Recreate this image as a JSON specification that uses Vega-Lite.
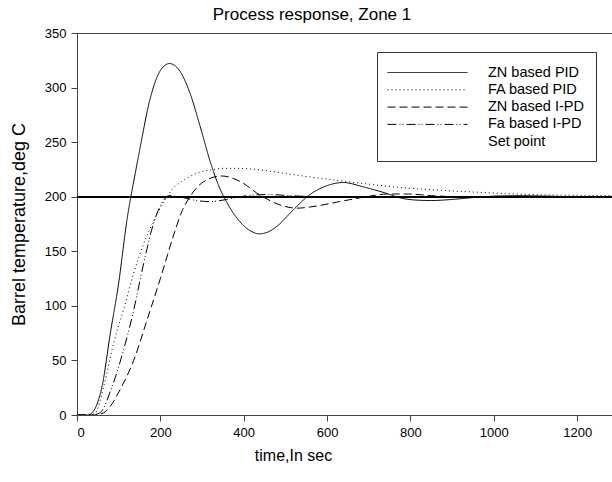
{
  "$schema": "https://vega.github.io/schema/vega-lite/v6.json",
  "autosize": {"type": "none"},
  "padding": {"left": 77, "top": 33, "right": 0, "bottom": 67},
  "width": 536,
  "height": 382,
  "title": {"text": "Process response, Zone 1", "font": "Liberation Sans", "fontSize": 17, "fontWeight": "normal", "color": "#000", "anchor": "middle", "dx": -33, "offset": 3},
  "config": {
    "view": {"stroke": "#444", "strokeWidth": 1},
    "font": "Liberation Sans",
    "axis": {"labelFont": "Liberation Sans", "titleFont": "Liberation Sans", "labelFontSize": 13, "titleFontSize": 16, "titleFontWeight": "normal", "labelColor": "#000", "titleColor": "#000", "domainColor": "#444", "tickColor": "#444", "tickSize": 6, "grid": false}
  },
  "data": {"values": [
    {"t": 0, "y": 0, "s": "ZN based PID"}, {"t": 25, "y": 0, "s": "ZN based PID"}, {"t": 36, "y": 2, "s": "ZN based PID"}, {"t": 50, "y": 12, "s": "ZN based PID"}, {"t": 60, "y": 26, "s": "ZN based PID"}, {"t": 80, "y": 75, "s": "ZN based PID"}, {"t": 100, "y": 121, "s": "ZN based PID"}, {"t": 120, "y": 179, "s": "ZN based PID"}, {"t": 140, "y": 222, "s": "ZN based PID"}, {"t": 151, "y": 244, "s": "ZN based PID"}, {"t": 175, "y": 289, "s": "ZN based PID"}, {"t": 199, "y": 315, "s": "ZN based PID"}, {"t": 222, "y": 322, "s": "ZN based PID"}, {"t": 247, "y": 315, "s": "ZN based PID"}, {"t": 271, "y": 295, "s": "ZN based PID"}, {"t": 295, "y": 265, "s": "ZN based PID"}, {"t": 319, "y": 233, "s": "ZN based PID"}, {"t": 340, "y": 210, "s": "ZN based PID"}, {"t": 355, "y": 198, "s": "ZN based PID"}, {"t": 391, "y": 177, "s": "ZN based PID"}, {"t": 415, "y": 169, "s": "ZN based PID"}, {"t": 437, "y": 166, "s": "ZN based PID"}, {"t": 460, "y": 168, "s": "ZN based PID"}, {"t": 480, "y": 173, "s": "ZN based PID"}, {"t": 519, "y": 188, "s": "ZN based PID"}, {"t": 559, "y": 202, "s": "ZN based PID"}, {"t": 599, "y": 210, "s": "ZN based PID"}, {"t": 639, "y": 213, "s": "ZN based PID"}, {"t": 687, "y": 209, "s": "ZN based PID"}, {"t": 743, "y": 203, "s": "ZN based PID"}, {"t": 775, "y": 199, "s": "ZN based PID"}, {"t": 810, "y": 197, "s": "ZN based PID"}, {"t": 850, "y": 196.5, "s": "ZN based PID"}, {"t": 900, "y": 197.5, "s": "ZN based PID"}, {"t": 960, "y": 199.5, "s": "ZN based PID"}, {"t": 1020, "y": 200.8, "s": "ZN based PID"}, {"t": 1070, "y": 201, "s": "ZN based PID"}, {"t": 1130, "y": 200.5, "s": "ZN based PID"}, {"t": 1200, "y": 200, "s": "ZN based PID"}, {"t": 1300, "y": 200, "s": "ZN based PID"},

    {"t": 0, "y": 0, "s": "FA based PID"}, {"t": 30, "y": 0, "s": "FA based PID"}, {"t": 44, "y": 2, "s": "FA based PID"}, {"t": 64, "y": 26, "s": "FA based PID"}, {"t": 88, "y": 66, "s": "FA based PID"}, {"t": 112, "y": 97, "s": "FA based PID"}, {"t": 136, "y": 130, "s": "FA based PID"}, {"t": 160, "y": 157, "s": "FA based PID"}, {"t": 184, "y": 178, "s": "FA based PID"}, {"t": 208, "y": 195, "s": "FA based PID"}, {"t": 231, "y": 208, "s": "FA based PID"}, {"t": 260, "y": 216, "s": "FA based PID"}, {"t": 287, "y": 221.5, "s": "FA based PID"}, {"t": 320, "y": 224.5, "s": "FA based PID"}, {"t": 351, "y": 226, "s": "FA based PID"}, {"t": 383, "y": 226, "s": "FA based PID"}, {"t": 415, "y": 225.5, "s": "FA based PID"}, {"t": 487, "y": 222, "s": "FA based PID"}, {"t": 551, "y": 218.5, "s": "FA based PID"}, {"t": 623, "y": 215, "s": "FA based PID"}, {"t": 700, "y": 211.5, "s": "FA based PID"}, {"t": 775, "y": 208.5, "s": "FA based PID"}, {"t": 847, "y": 206.5, "s": "FA based PID"}, {"t": 967, "y": 204, "s": "FA based PID"}, {"t": 1087, "y": 202, "s": "FA based PID"}, {"t": 1200, "y": 201.3, "s": "FA based PID"}, {"t": 1300, "y": 201, "s": "FA based PID"},

    {"t": 0, "y": 0, "s": "ZN based I-PD"}, {"t": 42, "y": 0, "s": "ZN based I-PD"}, {"t": 64, "y": 2, "s": "ZN based I-PD"}, {"t": 80, "y": 8, "s": "ZN based I-PD"}, {"t": 103, "y": 23, "s": "ZN based I-PD"}, {"t": 136, "y": 50, "s": "ZN based I-PD"}, {"t": 168, "y": 87, "s": "ZN based I-PD"}, {"t": 200, "y": 125, "s": "ZN based I-PD"}, {"t": 232, "y": 165, "s": "ZN based I-PD"}, {"t": 250, "y": 185, "s": "ZN based I-PD"}, {"t": 271, "y": 200, "s": "ZN based I-PD"}, {"t": 303, "y": 213.5, "s": "ZN based I-PD"}, {"t": 347, "y": 219, "s": "ZN based I-PD"}, {"t": 391, "y": 214, "s": "ZN based I-PD"}, {"t": 439, "y": 201.5, "s": "ZN based I-PD"}, {"t": 487, "y": 192.5, "s": "ZN based I-PD"}, {"t": 527, "y": 189.5, "s": "ZN based I-PD"}, {"t": 575, "y": 191.5, "s": "ZN based I-PD"}, {"t": 623, "y": 195, "s": "ZN based I-PD"}, {"t": 695, "y": 200, "s": "ZN based I-PD"}, {"t": 745, "y": 202.5, "s": "ZN based I-PD"}, {"t": 795, "y": 202.5, "s": "ZN based I-PD"}, {"t": 850, "y": 201, "s": "ZN based I-PD"}, {"t": 910, "y": 200, "s": "ZN based I-PD"}, {"t": 1300, "y": 200, "s": "ZN based I-PD"},

    {"t": 0, "y": 0, "s": "Fa based I-PD"}, {"t": 35, "y": 0, "s": "Fa based I-PD"}, {"t": 55, "y": 2, "s": "Fa based I-PD"}, {"t": 84, "y": 26, "s": "Fa based I-PD"}, {"t": 112, "y": 60, "s": "Fa based I-PD"}, {"t": 136, "y": 96, "s": "Fa based I-PD"}, {"t": 160, "y": 139, "s": "Fa based I-PD"}, {"t": 184, "y": 176, "s": "Fa based I-PD"}, {"t": 203, "y": 194, "s": "Fa based I-PD"}, {"t": 223, "y": 201, "s": "Fa based I-PD"}, {"t": 250, "y": 199.5, "s": "Fa based I-PD"}, {"t": 287, "y": 196.5, "s": "Fa based I-PD"}, {"t": 319, "y": 195.5, "s": "Fa based I-PD"}, {"t": 359, "y": 197.5, "s": "Fa based I-PD"}, {"t": 400, "y": 200.5, "s": "Fa based I-PD"}, {"t": 455, "y": 202, "s": "Fa based I-PD"}, {"t": 535, "y": 200.5, "s": "Fa based I-PD"}, {"t": 600, "y": 200, "s": "Fa based I-PD"}, {"t": 1300, "y": 200, "s": "Fa based I-PD"}
  ]},
  "layer": [
    {
      "mark": {"type": "rule", "color": "#000", "strokeWidth": 1},
      "encoding": {"y": {"datum": 200, "type": "quantitative"}}
    },
    {
      "mark": {"type": "line", "color": "#000", "strokeWidth": 1, "interpolate": "monotone", "clip": true},
      "encoding": {
        "x": {"field": "t", "type": "quantitative", "scale": {"domain": [0, 1286], "nice": false}, "axis": {"values": [0, 200, 400, 600, 800, 1000, 1200], "format": "d", "title": "time,In sec", "titleX": 216, "titlePadding": 8, "labelPadding": 5}},
        "y": {"field": "y", "type": "quantitative", "scale": {"domain": [0, 350], "nice": false}, "axis": {"values": [0, 50, 100, 150, 200, 250, 300, 350], "format": "d", "title": "Barrel temperature,deg C", "titleFontSize": 18, "titlePadding": 16, "labelPadding": 5}},
        "strokeDash": {
          "field": "s", "type": "nominal",
          "scale": {"domain": ["ZN based PID", "FA based PID", "ZN based I-PD", "Fa based I-PD", "Set point"], "range": [[1, 0], [1, 3], [8, 4], [9, 3, 1, 2, 1, 3], [0, 1000]]},
          "legend": {"title": null, "orient": "none", "legendX": 300, "legendY": 19, "symbolType": "M-5,0H5", "symbolSize": 256, "symbolStrokeWidth": 1, "symbolStrokeColor": "#000", "symbolFillColor": "transparent", "symbolOffset": 30, "labelFontSize": 14.5, "labelFont": "Liberation Sans", "labelColor": "#000", "strokeColor": "#333", "padding": 12, "rowPadding": 2.3, "labelOffset": 52, "fillColor": "#fff"}
        }
      }
    }
  ]
}
